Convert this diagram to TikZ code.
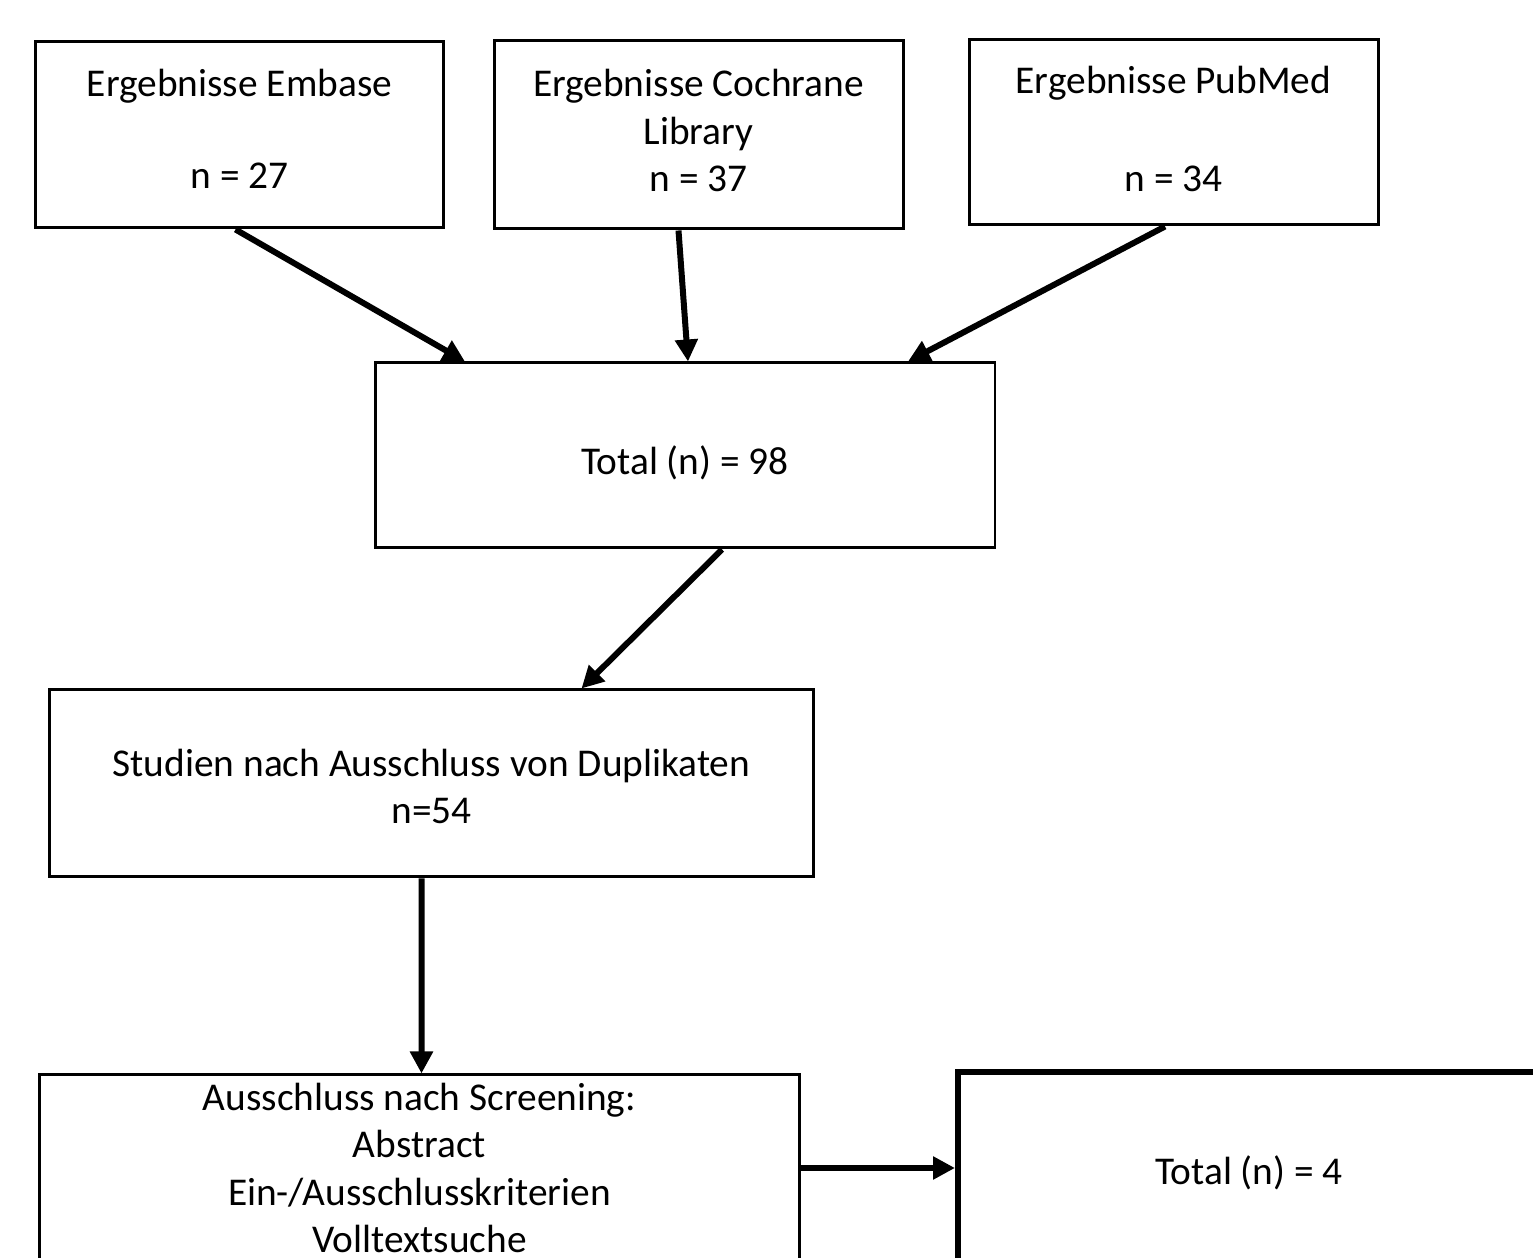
\documentclass[tikz,border=0pt]{standalone}
\usepackage{fontspec}
\setmainfont{Carlito}
\usetikzlibrary{arrows.meta,positioning}

\begin{document}
\begin{tikzpicture}[x=0.1mm,y=-0.1mm,>={Triangle[length=2.2mm,width=2.2mm]},
		box/.style={draw,rectangle,line width=0.3mm,align=center,inner sep=0pt,
			font=\fontsize{11.2}{13.5}\selectfont},
		txt/.style={align=center,inner sep=0pt,font=\fontsize{11.2}{13.5}\selectfont},
		arr/.style={->,line width=0.6mm}]
	\useasboundingbox (0,0) rectangle (1533,1258);

	\node[box,minimum width=40.9mm,minimum height=18.6mm] (emb) at (239.5,135) {};
	\node[txt] (embtxt) at ([yshift=0.6mm]emb.center) {Ergebnisse Embase\\[4.5mm]n = 27};
	\node[box,minimum width=40.9mm,minimum height=18.8mm] (coc) at (698.5,135) {};
	\node[txt] (coctxt) at ([yshift=0.45mm]coc.center) {Ergebnisse Cochrane\\Library\\n = 37};
	\node[box,minimum width=40.9mm,minimum height=18.5mm] (pub) at (1173.5,132.5) {};
	\node[txt] (pubtxt) at ([yshift=0.35mm]pub.center) {Ergebnisse PubMed\\[5mm]n = 34};
	\node[box,minimum width=62mm,minimum height=18.5mm,text height=4.9mm,text depth=1mm] (tot) at (685,455.5) {Total (n) = 98};
	\node[box,minimum width=76.5mm,minimum height=18.7mm] (stud) at (431.5,783.5) {};
	\node[txt] (studtxt) at ([yshift=-0.3mm]stud.center) {Studien nach Ausschluss von Duplikaten\\n=54};
	\node[box,minimum width=76.1mm,minimum height=18.6mm] (aus) at (419.5,1168) {Ausschluss nach Screening:\\Abstract\\Ein-/Ausschlusskriterien\\Volltextsuche};
	\node[box,line width=0.6mm,minimum width=58.2mm,minimum height=19.2mm,text height=4.4mm,text depth=1mm] (res) at (1249,1168) {Total (n) = 4};

	\path[arr]
	([xshift=-0.4mm]emb.south) edge ([xshift=-22mm]tot.north)
	([xshift=-2mm]coc.south) edge ([xshift=0.3mm]tot.north)
	([xshift=-0.85mm]pub.south) edge ([xshift=22.3mm]tot.north)
	([xshift=3.7mm]tot.south) edge ([xshift=15mm]stud.north)
	([xshift=-1mm]stud.south) edge ([xshift=0.2mm]aus.north)
	(aus.east) edge (res.west);
\end{tikzpicture}
\end{document}
